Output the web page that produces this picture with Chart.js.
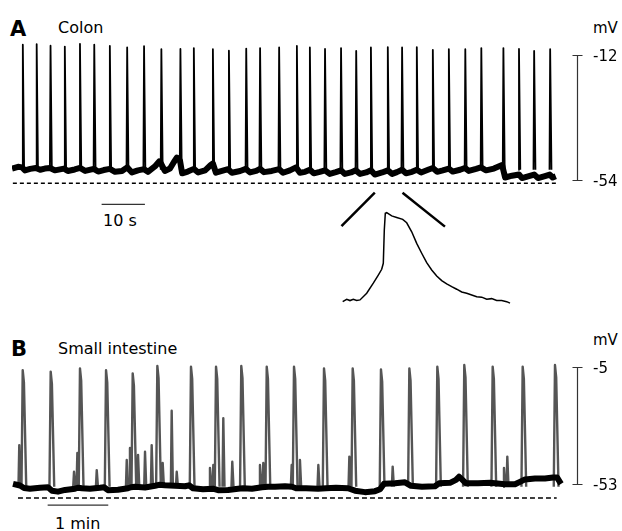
<!DOCTYPE html>
<html>
<head>
<meta charset="utf-8">
<script src="https://cdn.jsdelivr.net/npm/chart.js@4.4.1/dist/chart.umd.min.js"></script>
<style>
  html, body { margin: 0; padding: 0; background: #fff; }
  body { width: 622px; height: 531px; position: relative; overflow: hidden; font-family: 'DejaVu Sans', sans-serif; color: #000; }
  canvas { position: absolute; }
  .lbl { position: absolute; line-height: 1; white-space: nowrap; }
  .panel { font-weight: bold; font-size: 21px; }
  .title { font-size: 16px; }
  .unit { font-size: 15px; }
</style>
</head>
<body>
<div class="lbl panel" style="left:10px; top:19px;">A</div>
<div class="lbl title" style="left:58px; top:20px;">Colon</div>
<div class="lbl unit" style="left:593px; top:21px;">mV</div>
<div class="lbl title" style="left:103px; top:213px;">10 s</div>

<div class="lbl panel" style="left:11px; top:339px;">B</div>
<div class="lbl title" style="left:58px; top:341px;">Small intestine</div>
<div class="lbl unit" style="left:593px; top:333px;">mV</div>
<div class="lbl title" style="left:55px; top:516px;">1 min</div>

<canvas id="colonChart" width="622" height="200" style="left:0; top:40px;"></canvas>
<canvas id="insetChart" width="175" height="105" style="left:340px; top:205px;"></canvas>
<canvas id="intestineChart" width="622" height="175" style="left:0; top:355px;"></canvas>

<script>
// ---- panel A: colon (time in s, membrane potential in mV)
let colonTicks = [-12, -54];
let colonSpikeTimes = [2.5, 5.7, 8.9, 12.2, 15.7, 19.0, 22.6, 26.6, 30.5, 34.5, 38.9, 42.0, 46.4, 50.1, 54.1, 57.3, 61.7, 65.8, 68.8,
    72.3, 76.0, 79.5, 82.9, 86.8, 90.1, 93.5, 97.2, 100.9, 104.7, 108.4, 113.5, 117.1, 120.6, 124.3];
let colonSpikePeaks = [-8.6, -8.4, -8.9, -9.2, -8.3, -8.6, -9.0, -9.5, -9.1, -10.1, -10.0, -9.7, -10.1, -10.6, -9.9, -9.7, -9.5, -9.0, -9.5,
    -10.0, -9.7, -10.7, -9.5, -9.4, -9.5, -9.4, -10.3, -10.1, -10.1, -9.7, -9.7, -10.0, -10.7, -10.1];
let colonBaseline = [
    [0, -50.2], [1.4, -49.6], [2.3, -49.8], [3.0, -50.8], [4.2, -50.3], [5.5, -50.0], [6.5, -50.6], [7.6, -50.2], [8.8, -50.0],
    [9.9, -50.8], [12.0, -50.2], [12.9, -51.0], [14.5, -50.5], [15.7, -50.0], [16.9, -51.0], [18.9, -50.3], [19.9, -51.2],
    [21.2, -50.7], [22.6, -50.3], [23.8, -51.3], [25.4, -51.0], [26.6, -49.8], [27.7, -51.5], [29.1, -50.8], [30.5, -50.4],
    [31.4, -51.3], [33.0, -49.5], [34.0, -47.8], [34.4, -48.5], [35.3, -51.0], [36.5, -50.2], [37.4, -48.0], [38.1, -46.5],
    [38.8, -47.5], [39.3, -51.8], [40.6, -51.2], [42.0, -50.3], [43.0, -51.5], [44.6, -50.8], [45.9, -49.0], [46.4, -48.5],
    [47.1, -51.6], [48.5, -51.0], [49.9, -50.4], [50.8, -51.6], [52.7, -51.0], [54.0, -50.3], [55.0, -51.5], [56.4, -51.0],
    [57.3, -50.3], [58.2, -51.4], [60.0, -51.0], [61.7, -50.4], [62.6, -51.6], [64.2, -50.8], [65.6, -49.8], [66.5, -51.6],
    [67.7, -51.3], [68.8, -50.6], [69.7, -51.8], [71.1, -51.3], [72.3, -50.8], [73.4, -52.0], [74.8, -51.4], [76.0, -50.8],
    [76.9, -52.0], [78.3, -51.5], [79.4, -50.8], [80.4, -52.0], [81.8, -51.5], [82.9, -50.8], [83.8, -52.2], [85.5, -51.5],
    [86.8, -50.8], [87.8, -52.0], [88.9, -51.4], [90.1, -50.6], [91.0, -51.8], [92.4, -51.3], [93.5, -50.6], [94.5, -51.5],
    [96.1, -50.6], [97.2, -50.0], [98.2, -51.3], [99.5, -50.8], [100.9, -50.2], [101.8, -51.2], [103.5, -50.6], [104.6, -50.0],
    [105.5, -51.0], [107.2, -50.3], [108.3, -49.8], [109.5, -50.8], [111.3, -50.2], [113.2, -49.0], [113.9, -53.2], [115.5, -52.6],
    [117.1, -52.2], [117.8, -53.4], [119.2, -52.8], [120.6, -52.2], [121.5, -53.4], [123.1, -52.7], [124.2, -52.2], [124.9, -53.2],
    [125.6, -52.8]
];
let colonRest = -55.1;
let colonRestSpan = [0.2, 125.8];
let colonScaleBar = [20.7, 30.7];
let colonScaleLevel = -62.2;
let colonZoomGuides = [[[76.1, -69.5], [83.8, -58.3]], [[90.2, -58.3], [100.0, -69.7]]];

// ---- inset: one colon spike expanded (time in ms)
let insetTime = [0, 4, 7.3, 10.6, 14, 17.3, 24, 30.6, 35.6, 39, 40.6, 41.6, 42.6, 44, 49, 54, 60, 64, 69, 74,
    79, 84, 89, 94, 99, 104, 109, 114, 119, 124, 129, 134, 139, 144, 149, 154, 159, 164, 167.3];
let insetVoltage = [-51, -49.9, -50.5, -49.9, -50.5, -50.2, -47.1, -42.4, -38.6, -35.9, -33.1, -17.6, -9.8, -9.5, -11.0, -11.7, -12.6, -14.2, -18.4, -23.8,
    -28.4, -32.8, -36.2, -39.0, -41.2, -42.7, -44.0, -45.2, -46.5, -47.1, -47.9, -48.7, -48.9, -49.9, -49.6, -50.5, -50.5, -51, -51.7];

// ---- panel B: small intestine (time in s)
let intestineTicks = [-5, -53];
let intestineSpikeTimes = [10.6, 38.3, 67.3, 93.1, 119.5, 143.9, 177.2, 202.0, 227.0, 252.2, 279.2, 308.9, 337.3, 365.3, 393.4,
    421.1, 447.8, 475.9, 505.6, 537.6];
let intestineSpikePeaks = [-6.4, -7.0, -5.7, -6.4, -7.7, -4.7, -5.0, -5.0, -4.7, -5.0, -5.0, -5.7, -5.7, -6.1, -5.7, -5.0, -4.3, -5.0, -5.0, -4.3];
let intestineMinorTimes = [7.2, 61.4, 64.7, 83.9, 113.6, 116.8, 124.8, 131.7, 138.3, 149.2, 158.1, 163.1, 196.0, 199.3, 209.2, 218.1,
    245.5, 248.8, 276.9, 285.1, 303.3, 334.0, 376.9, 487.1, 490.4];
let intestineMinorPeaks = [-37, -47.9, -40.2, -47.2, -43.1, -38.2, -41, -39.7, -37, -44.3, -23, -47.9, -46.3, -45.1, -26, -43.8,
    -45.1, -44.3, -45.1, -43.1, -45.1, -41.7, -45.8, -46.3, -41.7];
let intestineBaseline = [
    [1.0, -52.8], [7.9, -53.5], [11.9, -54.5], [17.8, -54.8], [27.7, -54.4], [35.6, -54.2], [39.6, -55.6], [45.5, -56.0],
    [52.5, -55.3], [62.4, -54.8], [65.3, -54.4], [69.3, -54.6], [77.2, -54.8], [87.1, -54.4], [91.1, -54.2], [95.0, -55.4],
    [104.9, -55.2], [114.9, -54.6], [117.8, -54.2], [121.8, -54.0], [131.7, -54.3], [141.6, -53.6], [145.5, -53.2], [151.5, -53.4],
    [161.4, -53.6], [171.3, -53.8], [175.2, -53.4], [179.2, -54.6], [189.1, -55.0], [199.0, -54.8], [204.0, -55.4], [213.9, -55.3],
    [223.8, -54.8], [228.7, -54.6], [237.6, -54.8], [247.5, -54.2], [253.5, -54.0], [260.4, -54.0], [270.3, -53.8], [277.2, -54.0],
    [281.2, -54.6], [291.1, -54.6], [303.0, -54.8], [310.9, -54.6], [320.8, -54.4], [332.7, -54.6], [339.6, -55.6], [349.5, -56.2],
    [359.4, -55.8], [364.4, -55.0], [368.3, -52.8], [379.2, -52.6], [389.1, -52.2], [395.0, -53.6], [405.9, -54.0], [418.8, -53.8],
    [422.8, -52.6], [433.7, -52.4], [439.6, -51.2], [442.6, -49.9], [445.5, -51.0], [449.5, -52.6], [461.4, -52.6], [473.3, -52.4],
    [478.2, -52.6], [488.1, -53.0], [498.0, -53.0], [502.9, -52.0], [507.9, -51.0], [517.8, -50.6], [527.7, -50.6], [535.6, -50.2],
    [539.6, -50.2], [543.6, -52.8]
];
let intestineRest = -58.6;
let intestineRestSpan = [5.9, 539.3];
let intestineScaleBar = [35.3, 95.3];
let intestineScaleLevel = -61.5;

let pts = (pairs) => pairs.map(p => ({ x: p[0], y: p[1] }));

// spikes as separate strokes, broken with gaps
let spikeLine = (times, peaks, foot, before, after) => {
    let out = [];
    times.forEach((t, i) => {
        out.push({ x: t - before, y: foot }, { x: t, y: peaks[i] }, { x: t + after, y: foot }, { x: t + after, y: null });
    });
    return out;
}

let intestineSpikeLine = () => {
    let out = [];
    intestineSpikeTimes.forEach((t, i) => {
        let p = intestineSpikePeaks[i];
        out.push({ x: t - 1.2, y: -54 }, { x: t, y: p }, { x: t + 1.2, y: p - 5 }, { x: t + 3.5, y: -54 }, { x: t + 3.5, y: null });
    });
    intestineMinorTimes.forEach((t, i) => {
        out.push({ x: t - 0.8, y: -54 }, { x: t, y: intestineMinorPeaks[i] }, { x: t + 1.2, y: -54 }, { x: t + 1.2, y: null });
    });
    return out;
}

let bracket = {
    id: 'bracket',
    afterDraw(chart, args, opts) {
        if (!opts.values) return;
        let ctx = chart.ctx;
        let x = Math.round(chart.chartArea.right) + 0.5;
        let top = Math.round(chart.scales.y.getPixelForValue(opts.values[0])) + 0.5;
        let bot = Math.round(chart.scales.y.getPixelForValue(opts.values[1])) + 0.5;
        ctx.save();
        ctx.strokeStyle = '#333';
        ctx.lineWidth = 1.2;
        ctx.beginPath();
        ctx.moveTo(x, top); ctx.lineTo(x, bot);
        ctx.moveTo(x - 5, top); ctx.lineTo(x + 5, top);
        ctx.moveTo(x - 5, bot); ctx.lineTo(x + 5, bot);
        ctx.stroke();
        ctx.restore();
    }
};
Chart.register(bracket);

let rightAxis = (min, max, ticks) => ({
    position: 'right',
    min: min,
    max: max,
    afterBuildTicks: (s) => { s.ticks = ticks.map(v => ({ value: v })); },
    afterFit: (s) => { s.width = 45; s.paddingTop = 0; s.paddingBottom = 0; },
    grid: { display: false, drawTicks: false },
    border: { display: false },
    ticks: { padding: 16, color: '#000', labelOffset: 2, font: { family: 'DejaVu Sans', size: 15 } }
});

let baseOptions = (xMax, yMin, yMax, ticks) => ({
    responsive: false,
    animation: false,
    devicePixelRatio: 1,
    layout: { padding: { left: 12, top: 0, right: 0, bottom: 0 } },
    elements: { point: { radius: 0 }, line: { tension: 0, borderJoinStyle: 'round' } },
    plugins: { legend: { display: false }, tooltip: { enabled: false }, bracket: { values: ticks } },
    scales: {
        x: { type: 'linear', display: false, min: 0, max: xMax },
        y: rightAxis(yMin, yMax, ticks)
    }
});

new Chart(document.getElementById('colonChart'), {
    type: 'line',
    data: {
        datasets: [
            { data: pts(colonBaseline), borderColor: '#000', borderWidth: 6 },
            { data: spikeLine(colonSpikeTimes, colonSpikePeaks, -50.6, 0.15, 0.3), borderColor: '#000', borderWidth: 1.8 },
            { data: pts([[colonRestSpan[0], colonRest], [colonRestSpan[1], colonRest]]), borderColor: '#000', borderWidth: 1.5, borderDash: [4, 3] },
            { data: pts([[colonScaleBar[0], colonScaleLevel], [colonScaleBar[1], colonScaleLevel]]), borderColor: '#333', borderWidth: 1.2 },
            { data: pts(colonZoomGuides[0]), borderColor: '#000', borderWidth: 2.5 },
            { data: pts(colonZoomGuides[1]), borderColor: '#000', borderWidth: 2.5 }
        ]
    },
    options: baseOptions(130.5, -74.2, -7, colonTicks)
});

new Chart(document.getElementById('insetChart'), {
    type: 'line',
    data: {
        datasets: [{ data: insetTime.map((t, i) => ({ x: t, y: insetVoltage[i] })), borderColor: '#000', borderWidth: 1.5 }]
    },
    options: {
        responsive: false,
        animation: false,
        devicePixelRatio: 1,
        layout: { padding: 0 },
        elements: { point: { radius: 0 }, line: { tension: 0 } },
        plugins: { legend: { display: false }, tooltip: { enabled: false } },
        scales: {
            x: { type: 'linear', display: false, min: -2.7, max: 172.3 },
            y: { display: false, min: -54.9, max: -5.9 }
        }
    }
});

new Chart(document.getElementById('intestineChart'), {
    type: 'line',
    data: {
        datasets: [
            { data: pts(intestineBaseline), borderColor: '#000', borderWidth: 6 },
            { data: intestineSpikeLine(), borderColor: '#555', borderWidth: 2.4 },
            { data: pts([[intestineRestSpan[0], intestineRest], [intestineRestSpan[1], intestineRest]]), borderColor: '#000', borderWidth: 1.5, borderDash: [5, 3] },
            { data: pts([[intestineScaleBar[0], intestineScaleLevel], [intestineScaleBar[1], intestineScaleLevel]]), borderColor: '#333', borderWidth: 1.2 }
        ]
    },
    options: baseOptions(559.4, -71.65, -0.22, intestineTicks)
});
</script>
</body>
</html>
